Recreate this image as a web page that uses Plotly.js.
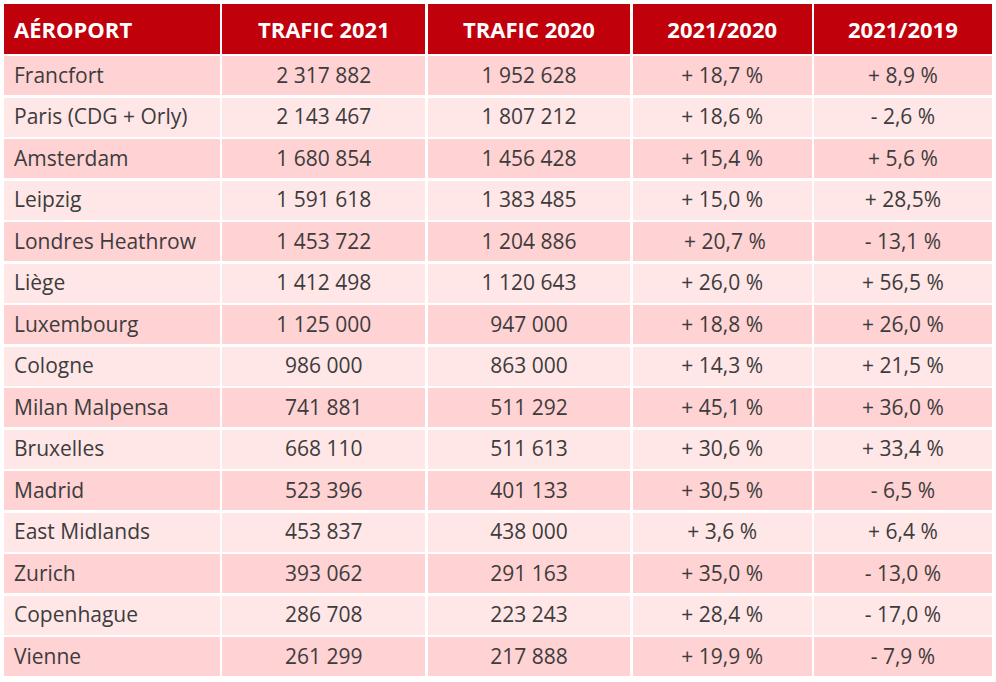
<!DOCTYPE html>
<html>
<head>
<meta charset="utf-8">
<script src="https://cdn.plot.ly/plotly-3.0.1.min.js"></script>
<style>html,body{margin:0;padding:0;background:#fff;}#chart{width:996px;height:682px;}</style>
</head>
<body>
<div id="chart"></div>
<script>
var headers = ["AÉROPORT", "TRAFIC 2021", "TRAFIC 2020", "2021/2020", "2021/2019"];
var airports = ["Francfort", "Paris (CDG + Orly)", "Amsterdam", "Leipzig", "Londres Heathrow", "Liège", "Luxembourg", "Cologne", "Milan Malpensa", "Bruxelles", "Madrid", "East Midlands", "Zurich", "Copenhague", "Vienne"];
var trafic2021 = [2317882, 2143467, 1680854, 1591618, 1453722, 1412498, 1125000, 986000, 741881, 668110, 523396, 453837, 393062, 286708, 261299];
var trafic2020 = [1952628, 1807212, 1456428, 1383485, 1204886, 1120643, 947000, 863000, 511292, 511613, 401133, 438000, 291163, 223243, 217888];
var var2120 = ["+ 18,7 %", "+ 18,6 %", "+ 15,4 %", "+ 15,0 %", " + 20,7 %", "+ 26,0 %", "+ 18,8 %", "+ 14,3 %", "+ 45,1 %", "+ 30,6 %", "+ 30,5 %", "+ 3,6 %", "+ 35,0 %", "+ 28,4 %", "+ 19,9 %"];
var var2119 = ["+ 8,9 %", "- 2,6 %", "+ 5,6 %", "+ 28,5%", "- 13,1 %", "+ 56,5 %", "+ 26,0 %", "+ 21,5 %", "+ 36,0 %", "+ 33,4 %", "- 6,5 %", "+ 6,4 %", "- 13,0 %", "- 17,0 %", "- 7,9 %"];

function fmt(n) {
  return String(n).replace(/\B(?=(\d{3})+(?!\d))/g, " ");
}
var rowColors = airports.map(function (_, i) { return i % 2 === 0 ? "#ffd2d3" : "#ffe6e7"; });
var blankCol = airports.map(function () { return ""; });

var W = 990, H = 679;
var colW = [218, 205, 205, 181, 180];
var textShiftX = 3, textShiftY = 3;

// background layer: fills and white grid lines
var bg = {
  type: "table",
  domain: { x: [0, 1], y: [0, 1] },
  columnwidth: colW,
  header: {
    values: headers.map(function () { return ""; }),
    fill: { color: "#c0000a" },
    line: { color: "#ffffff", width: 2.5 },
    font: { family: "Open Sans", size: 20, color: "#ffffff" },
    height: 52
  },
  cells: {
    values: [blankCol, blankCol, blankCol, blankCol, blankCol],
    fill: { color: [rowColors, rowColors, rowColors, rowColors, rowColors] },
    line: { color: "#ffffff", width: 2.5 },
    font: { family: "Open Sans", size: 21, color: "#3c3c3c" },
    height: 41.5
  }
};

// text layer, offset slightly to match the reference's padding
var txtColW = colW.slice();
txtColW[0] = colW[0] - textShiftX;
var txt = {
  type: "table",
  domain: { x: [textShiftX / W, 1], y: [0, 1 - textShiftY / H] },
  columnwidth: txtColW,
  header: {
    values: headers.map(function (h) { return "<b>" + h + "</b>"; }),
    align: ["left", "center", "center", "center", "center"],
    fill: { color: "rgba(0,0,0,0)" },
    line: { color: "rgba(0,0,0,0)", width: 0 },
    font: { family: "Open Sans", size: 22, color: "#ffffff" },
    height: 53
  },
  cells: {
    values: [airports, trafic2021.map(fmt), trafic2020.map(fmt), var2120, var2119],
    align: ["left", "center", "center", "center", "center"],
    fill: { color: "rgba(0,0,0,0)" },
    line: { color: "rgba(0,0,0,0)", width: 0 },
    font: { family: "Open Sans", size: 21, color: "#3c3c3c" },
    height: 41.5
  }
};

var layout = {
  width: 996,
  height: 682,
  margin: { l: 3, r: 3, t: 3, b: 0 },
  paper_bgcolor: "#ffffff"
};

Plotly.newPlot("chart", [bg, txt], layout, { displayModeBar: false, staticPlot: true });
</script>
</body>
</html>
